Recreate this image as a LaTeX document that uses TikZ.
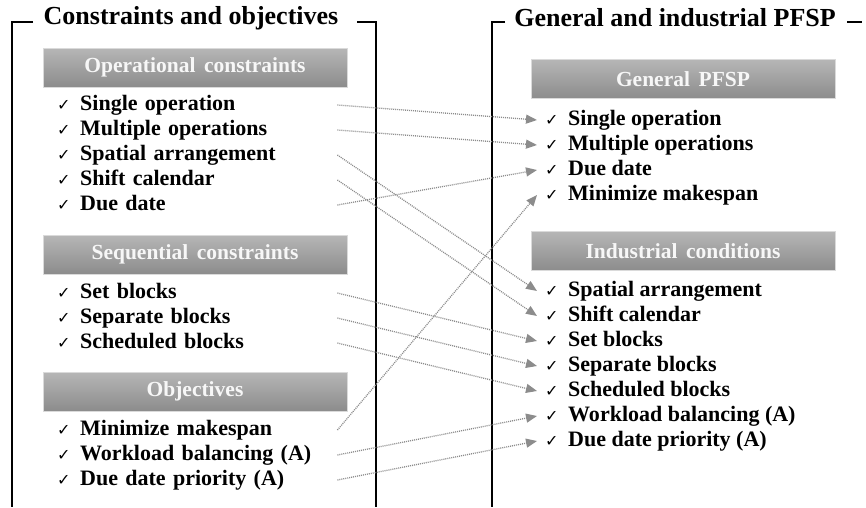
\documentclass[tikz,border=0pt]{standalone}
\usepackage{fontspec}
\setmainfont{Liberation Serif}
\newfontfamily\symfont{DejaVu Sans}
\usetikzlibrary{arrows.meta}

\definecolor{hdtop}{RGB}{182,182,182}
\definecolor{hdbot}{RGB}{140,140,140}
\definecolor{hdline}{RGB}{218,218,218}
\definecolor{linkgray}{RGB}{140,140,140}

\newcommand{\chk}{\makebox[23pt][l]{\symfont\mdseries\fontsize{16}{16}\selectfont ✓}}
\newcommand{\hdfont}{\fontsize{21.5}{24}\selectfont\bfseries\spaceskip=0.4em\relax}

\tikzset{
  header/.style={minimum width=304pt, minimum height=39pt, top color=hdtop, bottom color=hdbot,
    draw=hdline, text=white!94!gray, font=\hdfont},
  title/.style={inner sep=0pt, font=\fontsize{26}{30}\selectfont\bfseries},
  litem/.style={anchor=west, text width=280pt, align=left, inner sep=0pt, text height=15pt, text depth=5pt,
    font=\fontsize{22}{24}\selectfont\bfseries},
  ritem/.style={anchor=west, inner xsep=8pt, inner ysep=0pt, text height=15pt, text depth=5pt,
    font=\fontsize{22}{24}\selectfont\bfseries},
  link/.style={draw=linkgray, line width=1.3pt, dash pattern=on 1pt off 1pt,
    -{Triangle[width=9pt,length=11pt]}},
  frame/.style={line width=2.2pt}
}

\begin{document}
\begin{tikzpicture}[x=1pt,y=-1pt]
\useasboundingbox (0,0) rectangle (866,507);
%\draw[step=50,gray,very thin] (0,0) grid (866,507);

% left side: constraints and objectives
\node[title] (ltitle) at (191,18) {Constraints and objectives};
\draw[frame] (33,22) -- (12,22) -- (12,507);
\draw[frame] (357,22) -- (376,22) -- (376,507);

\node[header] (hoper) at (195,67.5) {Operational constraints};
\node[litem] (lsingle) at (57,105) {\chk Single operation};
\node[litem] (lmulti)  at (57,130) {\chk Multiple operations};
\node[litem] (lspat)   at (57,155) {\chk Spatial arrangement};
\node[litem] (lshift)  at (57,180) {\chk Shift calendar};
\node[litem] (ldue)    at (57,205) {\chk Due date};

\node[header] (hseq) at (195,254.5) {Sequential constraints};
\node[litem] (lset)   at (57,293) {\chk Set blocks};
\node[litem] (lsep)   at (57,318) {\chk Separate blocks};
\node[litem] (lsched) at (57,343) {\chk Scheduled blocks};

\node[header] (hobj) at (195,391.5) {Objectives};
\node[litem] (lmake)  at (57,430) {\chk Minimize makespan};
\node[litem] (lwork)  at (57,455) {\chk Workload balancing (A)};
\node[litem] (lprio)  at (57,480) {\chk Due date priority (A)};

% right side: general and industrial PFSP
\node[title] (rtitle) at (675,18) {General and industrial PFSP};
\draw[frame] (505,22) -- (492,22) -- (492,507);
\draw[frame] (847,22) -- (862,22);

\node[header] (hgen) at (683,79) {General PFSP};
\node[ritem] (rsingle) at (537,120) {\chk Single operation};
\node[ritem] (rmulti)  at (537,145) {\chk Multiple operations};
\node[ritem] (rdue)    at (537,170) {\chk Due date};
\node[ritem] (rmake)   at (537,195) {\chk Minimize makespan};

\node[header] (hind) at (683,251) {Industrial conditions};
\node[ritem] (rspat)   at (537,291) {\chk Spatial arrangement};
\node[ritem] (rshift)  at (537,316) {\chk Shift calendar};
\node[ritem] (rset)    at (537,341) {\chk Set blocks};
\node[ritem] (rsep)    at (537,366) {\chk Separate blocks};
\node[ritem] (rsched)  at (537,391) {\chk Scheduled blocks};
\node[ritem] (rwork)   at (537,416) {\chk Workload balancing (A)};
\node[ritem] (rprio)   at (537,441) {\chk Due date priority (A)};

% links
\draw[link] (lsingle.east) -- (rsingle.west);
\draw[link] (lmulti.east) -- (rmulti.west);
\draw[link] (lspat.east) -- (rspat.west);
\draw[link] (lshift.east) -- (rshift.west);
\draw[link] (ldue.east) -- (rdue.west);
\draw[link] (lset.east) -- (rset.west);
\draw[link] (lsep.east) -- (rsep.west);
\draw[link] (lsched.east) -- (rsched.west);
\draw[link] (lmake.east) -- (rmake.west);
\draw[link] (lwork.east) -- (rwork.west);
\draw[link] (lprio.east) -- (rprio.west);
\end{tikzpicture}
\end{document}
